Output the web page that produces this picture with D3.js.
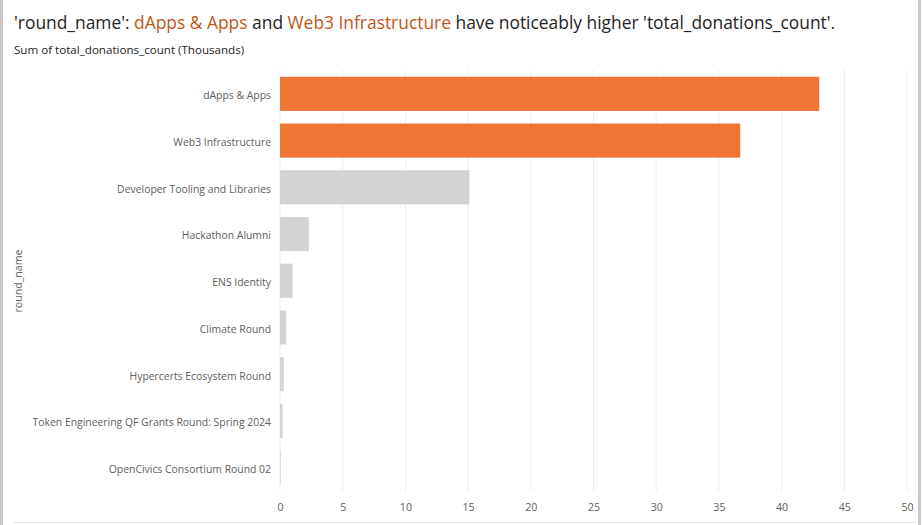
<!DOCTYPE html>
<html><head><meta charset="utf-8">
<script src="https://cdn.jsdelivr.net/npm/d3@7"></script>
<style>
body{margin:0;background:#fff;}
svg{display:block;font-family:"Open Sans","Noto Sans",sans-serif;}
</style></head>
<body>
<svg id="c" width="922" height="525"></svg>
<script>
const categories = ["dApps & Apps","Web3 Infrastructure","Developer Tooling and Libraries","Hackathon Alumni","ENS Identity","Climate Round","Hypercerts Ecosystem Round","Token Engineering QF Grants Round: Spring 2024","OpenCivics Consortium Round 02"];
const values = [43.0, 36.7, 15.1, 2.3, 1.0, 0.5, 0.3, 0.2, 0.05];
const highlighted = ["dApps & Apps","Web3 Infrastructure"];
const xTicks = [0,5,10,15,20,25,30,35,40,45,50];

const svg = d3.select("#c");
// frame
svg.append("rect").attr("x",0).attr("y",0).attr("width",3).attr("height",525).attr("fill","#c8c8c8");
svg.append("rect").attr("x",918).attr("y",0).attr("width",3).attr("height",525).attr("fill","#c8c8c8");
svg.append("line").attr("x1",14).attr("x2",915).attr("y1",522.5).attr("y2",522.5).attr("stroke","#e3e3e3").attr("stroke-width",1);

// title
const t = svg.append("text").attr("x",14).attr("y",29).attr("font-size",17.4).attr("fill","#252423");
t.append("tspan").text("'round_name': ");
t.append("tspan").attr("fill","#C0571A").text("dApps & Apps");
t.append("tspan").text(" and ");
t.append("tspan").attr("fill","#C0571A").text("Web3 Infrastructure");
t.append("tspan").text(" have noticeably higher 'total_donations_count'.");

svg.append("text").attr("x",14).attr("y",53.5).attr("font-size",11.6).attr("fill","#252423").text("Sum of total_donations_count (Thousands)");

const x = d3.scaleLinear().domain([0,50]).range([280,907]);
const y = d3.scaleBand().domain(categories).range([70.5,491]).paddingInner(0.27).paddingOuter(0.135);

// grid
svg.append("g").selectAll("line").data(xTicks).join("line")
  .attr("x1",d=>x(d)).attr("x2",d=>x(d)).attr("y1",70).attr("y2",491)
  .attr("stroke","#ececec").attr("stroke-width",1);

// bars
svg.append("g").selectAll("rect").data(categories).join("rect")
  .attr("x",x(0)).attr("y",d=>y(d))
  .attr("width",(d,i)=>Math.max(0,x(values[i])-x(0)))
  .attr("height",y.bandwidth())
  .attr("fill",d=>highlighted.includes(d)?"#EE7534":"#D3D3D3");

// y labels
const yAxis = d3.axisLeft(y).tickSize(0).tickPadding(9);
const gy = svg.append("g").attr("transform","translate(280,2)").call(yAxis);
gy.select(".domain").remove();
gy.selectAll("text").attr("font-size",10.4).attr("fill","#605E5C").attr("font-family","'Open Sans','Noto Sans',sans-serif");

// x axis
const xAxis = d3.axisBottom(x).tickValues(xTicks).tickSize(0).tickPadding(8);
const gx = svg.append("g").attr("transform","translate(0,495)").call(xAxis);
gx.select(".domain").remove();
gx.selectAll("text").attr("font-size",10.6).attr("fill","#605E5C").attr("font-family","'Open Sans','Noto Sans',sans-serif");

svg.append("text").attr("transform","translate(22,281) rotate(-90)").attr("text-anchor","middle")
  .attr("font-size",10.6).attr("fill","#605E5C").text("round_name");
</script>
</body></html>
